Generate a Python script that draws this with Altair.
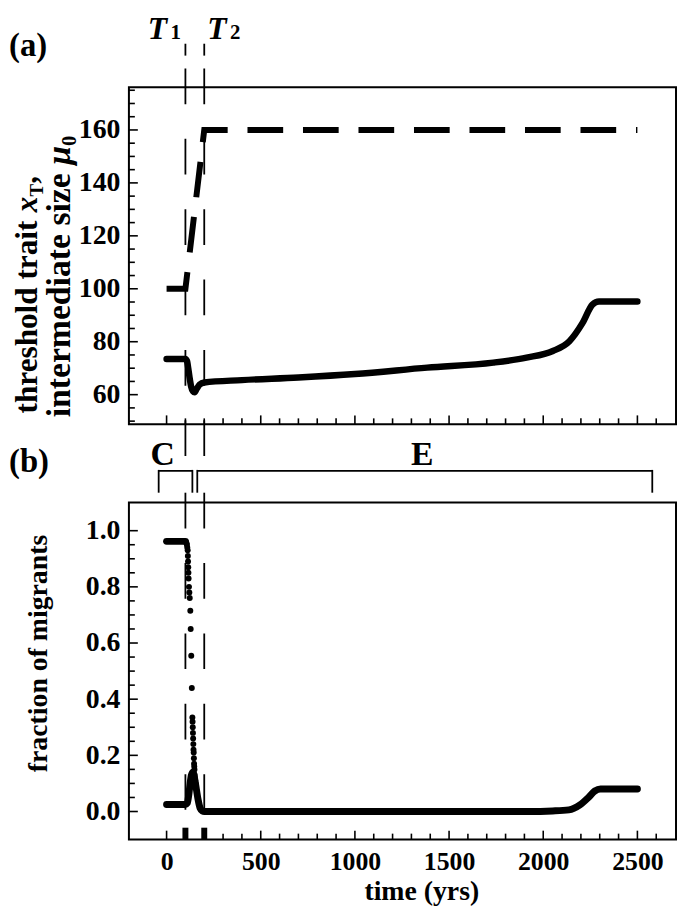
import altair as alt
import pandas as pd

# ---------------- data ----------------
# panel (a): threshold trait (dashed) and intermediate size (solid)
a_dash_t = [0, 100, 200, 2500]
a_dash_v = [100, 100, 160, 160]

a_solid_t = [0, 100, 108, 115, 122, 130, 140, 149, 160, 175, 200, 400, 700, 1000,
             1384, 1735, 1911, 2051, 2139, 2209, 2261, 2296, 2500]
a_solid_v = [73.5, 73.5, 72.8, 70.0, 66.5, 63.2, 61.3, 60.9, 62.2, 63.8, 64.6, 65.5, 66.5, 67.8,
             70.2, 72.1, 74.0, 76.5, 80.2, 87.1, 94.0, 95.2, 95.2]

# panel (b): fraction of migrants
b_high_t = [0, 100]
b_high_v = [0.962, 0.962]

b_fall_t = [103, 106, 108, 110, 112, 113, 114, 115, 116, 117, 119, 121, 123, 126, 128, 131, 134,
            137, 138, 139, 140, 141, 142, 143, 144, 145, 146, 147, 148, 149, 150, 152, 154, 156]
b_fall_v = [0.96, 0.955, 0.95, 0.94, 0.93, 0.91, 0.89, 0.87, 0.85, 0.83, 0.80, 0.78, 0.76, 0.715,
            0.65, 0.555, 0.44, 0.335, 0.32, 0.30, 0.28, 0.26, 0.24, 0.22, 0.21, 0.19, 0.17, 0.16,
            0.15, 0.13, 0.12, 0.11, 0.10, 0.09]

b_low_t = [0, 100, 110, 118, 125, 132, 140, 148, 158, 168, 178, 190, 200, 1920, 2050, 2136,
           2195, 2240, 2274, 2304, 2500]
b_low_v = [0.025, 0.025, 0.03, 0.06, 0.10, 0.13, 0.14, 0.12, 0.08, 0.04, 0.012, 0.002, 0.0, 0.0,
           0.002, 0.006, 0.024, 0.05, 0.073, 0.08, 0.08]

T_marks = [100, 200]
x_tick_labels = [0, 500, 1000, 1500, 2000, 2500]
x_minor = list(range(0, 2700, 100))
a_y_labels = [60, 80, 100, 120, 140, 160]
a_y_minor = list(range(50, 180, 5))
b_y_labels = [0.0, 0.2, 0.4, 0.6, 0.8, 1.0]
b_y_minor = [round(i * 0.05, 2) for i in range(0, 21)]
bracket_C = [-42, 137]
bracket_E = [163, 2579]
label_C_t = -21
label_E_t = 1358

# ---------------- helpers ----------------
FONT = "Liberation Serif"
W, H = 552, 340
one = pd.DataFrame({"d": [0]})

xs = alt.Scale(domain=[-200, 2705], nice=False, zero=False)
ys_a = alt.Scale(domain=[48.8, 176.1], nice=False, zero=False)
ys_b = alt.Scale(domain=[-0.1, 1.1], nice=False, zero=False)

ax_a_y = alt.Axis(values=a_y_labels, title="", labelPadding=9, labelFontSize=28)
ax_b_y = alt.Axis(values=b_y_labels, format=".1f", title="", labelPadding=9, labelFontSize=28)
ax_b_x = alt.Axis(values=x_tick_labels, format="d", title="time (yrs)", labelPadding=9,
                  labelFontSize=26, titleFontSize=28, titleX=295, titleY=60,
                  titleBaseline="alphabetic", titleAlign="center")


def Xa(f):
    return alt.X(f, type="quantitative", scale=xs, axis=None)


def Xb(f):
    return alt.X(f, type="quantitative", scale=xs, axis=ax_b_x)


def Ya(f):
    return alt.Y(f, type="quantitative", scale=ys_a, axis=ax_a_y)


def Yb(f):
    return alt.Y(f, type="quantitative", scale=ys_b, axis=ax_b_y)


def txt(text, x, y, size, style="normal", angle=0, align="left"):
    kw = dict(text=text, font=FONT, fontSize=size, fontWeight="bold", align=align,
              baseline="alphabetic", color="black")
    if style != "normal":
        kw["fontStyle"] = style
    if angle:
        kw["angle"] = angle
    return alt.Chart(one).mark_text(**kw).encode(x=alt.value(x), y=alt.value(y))


# ---------------- panel (a) ----------------
df_a_dash = pd.DataFrame({"t": a_dash_t, "v": a_dash_v})
df_a_solid = pd.DataFrame({"t": a_solid_t, "v": a_solid_v})
df_T = pd.DataFrame({"t": T_marks})
df_xmin = pd.DataFrame({"t": x_minor, "major": [t % 500 == 0 for t in x_minor]})
df_aymin = pd.DataFrame({"v": a_y_minor, "major": [v % 20 == 0 and v >= 60 for v in a_y_minor]})

a_yticks_major = alt.Chart(df_aymin[df_aymin.major]).mark_rule(color="black", strokeWidth=1.6).encode(
    y=Ya("v"), x=alt.value(0), x2=alt.value(9))
a_yticks_minor = alt.Chart(df_aymin[~df_aymin.major]).mark_rule(color="black", strokeWidth=1.6).encode(
    y=Ya("v"), x=alt.value(0), x2=alt.value(6))
a_xticks_major = alt.Chart(df_xmin[df_xmin.major]).mark_rule(color="black", strokeWidth=1.6).encode(
    x=Xa("t"), y=alt.value(H), y2=alt.value(H - 9))
a_xticks_minor = alt.Chart(df_xmin[~df_xmin.major]).mark_rule(color="black", strokeWidth=1.6).encode(
    x=Xa("t"), y=alt.value(H), y2=alt.value(H - 6))

a_dash = alt.Chart(df_a_dash).mark_line(color="black", strokeWidth=6, strokeDash=[36, 20],
                                        strokeCap="butt").encode(x=Xa("t"), y=Ya("v"))
a_solid = alt.Chart(df_a_solid).mark_line(color="black", strokeWidth=6.5, interpolate="monotone",
                                          strokeCap="round").encode(x=Xa("t"), y=Ya("v"))

a_Tshort = alt.Chart(df_T).mark_rule(color="black", strokeWidth=1.8).encode(
    x=Xa("t"), y=alt.value(-44), y2=alt.value(-32))
a_Tlong = alt.Chart(df_T).mark_rule(color="black", strokeWidth=1.8, strokeDash=[36, 35]).encode(
    x=Xa("t"), y=alt.value(-19), y2=alt.value(372))

# brackets (drawn below panel a, above panel b)
df_br = pd.DataFrame({"t1": [bracket_C[0], bracket_E[0]], "t2": [bracket_C[1], bracket_E[1]]})
df_brv = pd.DataFrame({"t": bracket_C + bracket_E})
br_h = alt.Chart(df_br).mark_rule(color="black", strokeWidth=1.8).encode(
    x=Xa("t1"), x2="t2", y=alt.value(387))
br_v = alt.Chart(df_brv).mark_rule(color="black", strokeWidth=1.8).encode(
    x=Xa("t"), y=alt.value(386), y2=alt.value(409))
df_CE = pd.DataFrame({"t": [label_C_t, label_E_t], "lab": ["C", "E"]})
CE = alt.Chart(df_CE).mark_text(font=FONT, fontSize=34, fontWeight="bold", align="center",
                                baseline="alphabetic", color="black").encode(
    x=Xa("t"), y=alt.value(381), text="lab:N")

# texts
F1 = 31.5
F2 = 34
a_texts = [
    txt("(a)", -121, -32, 33),
    txt("T", 19, -49, 32, style="italic"),
    txt("1", 42, -49, 21),
    txt("T", 79, -49, 32, style="italic"),
    txt("2", 102, -49, 21),
    txt("(b)", -121, 388, 33),
    # y title, line 1
    txt("threshold trait", -92.5, 329, F1, angle=270),
    txt("x", -92.5, 329 - 6.444 * F1, F1, style="italic", angle=270),
    txt("T", -86.5, 329 - 6.944 * F1, 19, angle=270),
    txt(",", -92.5, 329 - 6.944 * F1 - 13, F1, angle=270),
    # y title, line 2
    txt("intermediate size", -59, 333, F2, angle=270),
    txt("\u03bc", -59, 333 - 7.498 * F2, F2, style="italic", angle=270),
    txt("0", -53, 333 - 7.498 * F2 - 19, 21, angle=270),
]

panel_a = alt.layer(
    a_yticks_major, a_yticks_minor, a_xticks_major, a_xticks_minor,
    a_Tshort, a_Tlong, a_dash, a_solid, br_h, br_v, CE, *a_texts
).properties(width=W, height=H)

# ---------------- panel (b) ----------------
df_b_high = pd.DataFrame({"t": b_high_t, "v": b_high_v})
df_b_fall = pd.DataFrame({"t": b_fall_t, "v": b_fall_v})
df_b_low = pd.DataFrame({"t": b_low_t, "v": b_low_v})
df_bymin = pd.DataFrame({"v": b_y_minor,
                         "major": [abs(v * 5 - round(v * 5)) < 1e-9 for v in b_y_minor]})

b_yticks_major = alt.Chart(df_bymin[df_bymin.major]).mark_rule(color="black", strokeWidth=1.6).encode(
    y=Yb("v"), x=alt.value(0), x2=alt.value(9))
b_yticks_minor = alt.Chart(df_bymin[~df_bymin.major]).mark_rule(color="black", strokeWidth=1.6).encode(
    y=Yb("v"), x=alt.value(0), x2=alt.value(6))
b_xticks_major = alt.Chart(df_xmin[df_xmin.major]).mark_rule(color="black", strokeWidth=1.6).encode(
    x=Xb("t"), y=alt.value(H), y2=alt.value(H - 9))
b_xticks_minor = alt.Chart(df_xmin[~df_xmin.major]).mark_rule(color="black", strokeWidth=1.6).encode(
    x=Xb("t"), y=alt.value(H), y2=alt.value(H - 6))
b_Tthick = alt.Chart(df_T).mark_rule(color="black", strokeWidth=6).encode(
    x=Xb("t"), y=alt.value(H), y2=alt.value(H - 12))
b_Tlong = alt.Chart(df_T).mark_rule(color="black", strokeWidth=1.8, strokeDash=[36, 35]).encode(
    x=Xb("t"), y=alt.value(-10), y2=alt.value(311))

b_high = alt.Chart(df_b_high).mark_line(color="black", strokeWidth=7, strokeCap="round").encode(
    x=Xb("t"), y=Yb("v"))
b_low = alt.Chart(df_b_low).mark_line(color="black", strokeWidth=7, strokeCap="round",
                                      interpolate="monotone").encode(x=Xb("t"), y=Yb("v"))
b_fall = alt.Chart(df_b_fall).mark_circle(color="black", size=36, opacity=1).encode(
    x=Xb("t"), y=Yb("v"))

b_title = txt("fraction of migrants", -83, 272, 28, angle=270)

panel_b = alt.layer(
    b_yticks_major, b_yticks_minor, b_xticks_major, b_xticks_minor, b_Tthick, b_Tlong,
    b_high, b_low, b_fall, b_title
).properties(width=W, height=H)

chart = alt.vconcat(panel_a, panel_b, spacing=79, bounds="flush").properties(
    padding={"left": 0, "top": 0, "right": 0, "bottom": 0},
    background="white",
).configure_view(stroke="black", strokeWidth=2).configure_axis(
    labelFont=FONT, labelFontWeight="bold", labelColor="black", titleFont=FONT,
    titleFontWeight="bold", titleColor="black", grid=False, domain=False, ticks=False,
    tickSize=0,
)

chart.save("out.html", embed_options={"renderer": "svg", "actions": False})
